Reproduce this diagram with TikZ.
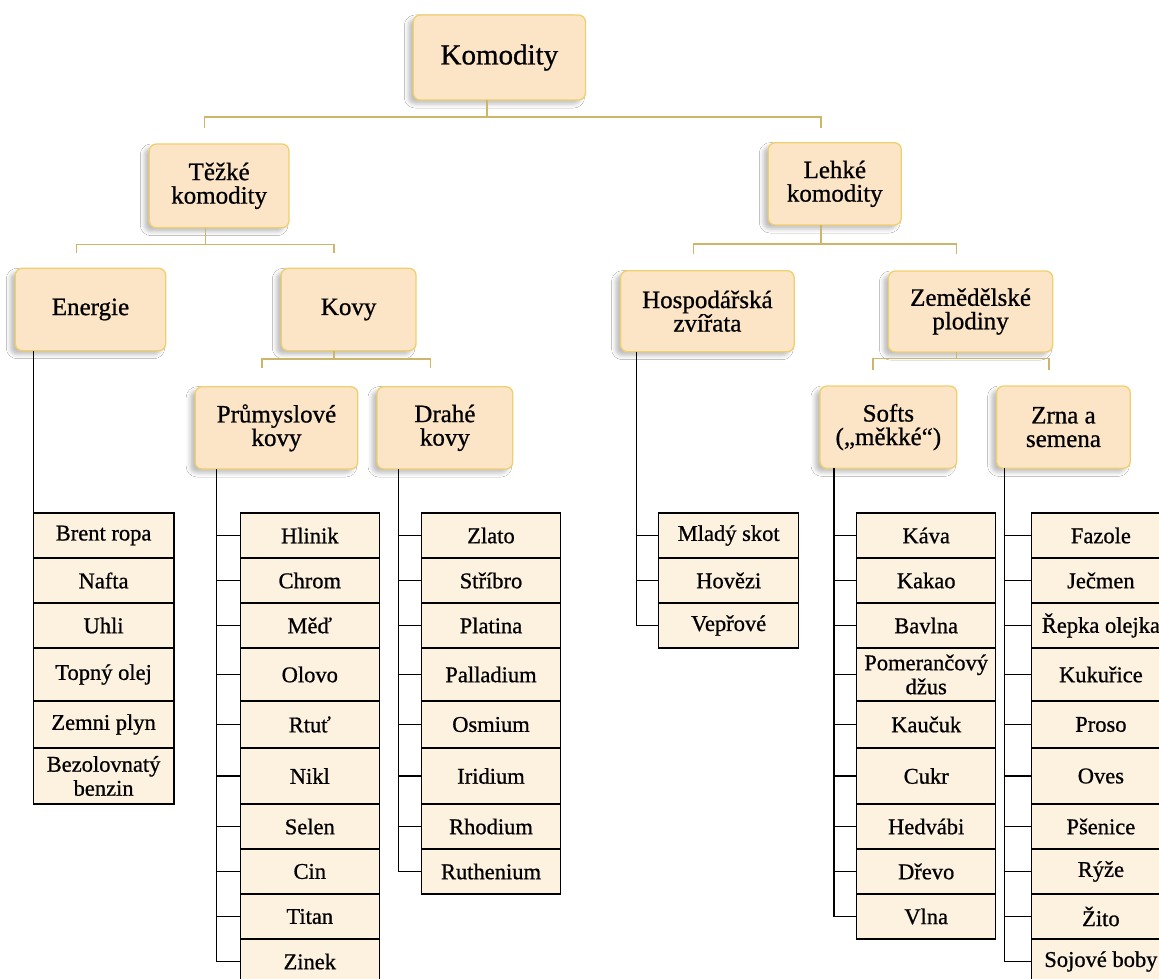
\documentclass[tikz,border=0pt]{standalone}
\usepackage{fontspec}
\setmainfont{Liberation Serif}
\newfontfamily\heavyserif{Liberation Serif}[FakeBold=0.8]
\usetikzlibrary{shadows.blur}
\definecolor{boxfill}{HTML}{FCE5C6}
\definecolor{boxline}{HTML}{F0D06E}
\definecolor{leaffill}{HTML}{FDF1DF}
\definecolor{goldline}{HTML}{CDB66A}
\tikzset{
  cat/.style={rounded corners=7pt, draw=boxline, fill=boxfill, line width=1.3pt,
    align=center, inner sep=0pt, outer sep=0pt, anchor=north west,
    font=\heavyserif\fontsize{25}{23.5}\selectfont,
    blur shadow={shadow xshift=-5pt, shadow yshift=-4pt, shadow blur radius=4pt, shadow opacity=25}},
  leaf/.style={draw=black, fill=leaffill, line width=1.2pt, align=center,
    inner sep=0pt, outer sep=0pt, anchor=north, font=\heavyserif\fontsize{22.5}{24}\selectfont},
  wa/.style={minimum width=140.6pt}, wb/.style={minimum width=138.8pt},
  wc/.style={minimum width=138.7pt}, wd/.style={minimum width=139.8pt},
  we/.style={minimum width=139pt},
  ha/.style={minimum height=45pt}, hb/.style={minimum height=53pt},
  hc/.style={minimum height=47pt}, hd/.style={minimum height=56pt},
  blk/.style={draw=black, line width=1.3pt},
  gold/.style={draw=goldline, line width=1.5pt},
}
\begin{document}
\begin{tikzpicture}[x=1pt, y=-1pt]
\clip (0,0) rectangle (1159,979);
\fill[white] (0,0) rectangle (1159,979);

% category boxes
\node[cat, minimum width=172.2pt, minimum height=85pt, font=\heavyserif\fontsize{29}{30}\selectfont] (kom) at (413.3,15) {Komodity};
\node[cat, minimum width=139.7pt, minimum height=83.7pt] (tk) at (149.3,144) {Těžké\\komodity};
\node[cat, minimum width=133pt, minimum height=82.3pt] (lk) at (768.3,142.7) {Lehké\\komodity};
\node[cat, minimum width=150.4pt, minimum height=82.4pt] (en) at (15.3,268.3) {Energie};
\node[cat, minimum width=134.7pt, minimum height=82.4pt] (kv) at (281.3,268.3) {Kovy};
\node[cat, minimum width=173.6pt, minimum height=81pt] (hz) at (620.6,270.7) {Hospodářská\\zvířata};
\node[cat, minimum width=164.3pt, minimum height=81pt] (zp) at (888.4,271) {Zemědělské\\plodiny};
\node[cat, minimum width=162.6pt, minimum height=82.3pt] (pk) at (195.2,386.7) {Průmyslové\\kovy};
\node[cat, minimum width=135.8pt, minimum height=82.3pt] (dk) at (377,386.7) {Drahé\\kovy};
\node[cat, minimum width=136.7pt, minimum height=82.3pt] (sk) at (820,386) {Softs\\(„měkké“)};
\node[cat, minimum width=133.7pt, minimum height=82.3pt] (zk) at (996.6,386) {Zrna a\\semena};

% gold connectors
\coordinate (j1) at (204.7,128);  \coordinate (j2) at (820.8,128);
\coordinate (j3) at (76.5,252.5); \coordinate (j4) at (334,252.5);
\coordinate (j5) at (693.4,254);  \coordinate (j6) at (956.7,254);
\coordinate (j7) at (262,368);    \coordinate (j8) at (430.5,368);
\coordinate (j9) at (872.9,370);  \coordinate (j10) at (1049,370);
\draw[gold] ([xshift=73.5pt]kom.south west) -- ++(0,17) -| (j1);
\draw[gold] ([xshift=73.5pt]kom.south west) -- ++(0,17) -| (j2);
\draw[gold] ([xshift=56.2pt]tk.south west) -- ++(0,16.6) -| (j3);
\draw[gold] ([xshift=56.2pt]tk.south west) -- ++(0,16.6) -| (j4);
\draw[gold] ([xshift=52.5pt]lk.south west) -- ++(0,19) -| (j5);
\draw[gold] ([xshift=52.5pt]lk.south west) -- ++(0,19) -| (j6);
\draw[gold] ([xshift=52.7pt]kv.south west) -- ++(0,8.3) -| (j7);
\draw[gold] ([xshift=52.7pt]kv.south west) -- ++(0,8.3) -| (j8);
\draw[gold] ([xshift=68.3pt]zp.south west) -- ++(0,6.3) -| (j9);
\draw[gold] ([xshift=68.3pt]zp.south west) -- ++(0,6.3) -| (j10);

% Energie leaves
\node[leaf, wa, ha] (e1) at (103.6,513) {Brent ropa};
\node[leaf, wa, ha] (e2) at (e1.south) {Nafta};
\node[leaf, wa, ha] (e3) at (e2.south) {Uhli};
\node[leaf, wa, hb] (e4) at (e3.south) {Topný olej};
\node[leaf, wa, hc] (e5) at (e4.south) {Zemni plyn};
\node[leaf, wa, hd] (e6) at (e5.south) {Bezolovnatý\\benzin};

% Průmyslové kovy leaves
\node[leaf, wb, ha] (p1) at (309.8,513) {Hlinik};
\node[leaf, wb, ha] (p2) at (p1.south) {Chrom};
\node[leaf, wb, ha] (p3) at (p2.south) {Měď};
\node[leaf, wb, hb] (p4) at (p3.south) {Olovo};
\node[leaf, wb, hc] (p5) at (p4.south) {Rtuť};
\node[leaf, wb, hd] (p6) at (p5.south) {Nikl};
\node[leaf, wb, ha] (p7) at (p6.south) {Selen};
\node[leaf, wb, ha] (p8) at (p7.south) {Cin};
\node[leaf, wb, ha] (p9) at (p8.south) {Titan};
\node[leaf, wb, ha] (p10) at (p9.south) {Zinek};

% Drahé kovy leaves
\node[leaf, wc, ha] (d1) at (491,513) {Zlato};
\node[leaf, wc, ha] (d2) at (d1.south) {Stříbro};
\node[leaf, wc, ha] (d3) at (d2.south) {Platina};
\node[leaf, wc, hb] (d4) at (d3.south) {Palladium};
\node[leaf, wc, hc] (d5) at (d4.south) {Osmium};
\node[leaf, wc, hd] (d6) at (d5.south) {Iridium};
\node[leaf, wc, ha] (d7) at (d6.south) {Rhodium};
\node[leaf, wc, ha] (d8) at (d7.south) {Ruthenium};

% Hospodářská zvířata leaves
\node[leaf, wd, ha] (h1) at (728.7,513) {Mladý skot};
\node[leaf, wd, ha] (h2) at (h1.south) {Hovězi};
\node[leaf, wd, ha] (h3) at (h2.south) {Vepřové};

% Softs leaves
\node[leaf, we, ha] (s1) at (926.2,513) {Káva};
\node[leaf, we, ha] (s2) at (s1.south) {Kakao};
\node[leaf, we, ha] (s3) at (s2.south) {Bavlna};
\node[leaf, we, hb] (s4) at (s3.south) {Pomerančový\\džus};
\node[leaf, we, hc] (s5) at (s4.south) {Kaučuk};
\node[leaf, we, hd] (s6) at (s5.south) {Cukr};
\node[leaf, we, ha] (s7) at (s6.south) {Hedvábi};
\node[leaf, we, ha] (s8) at (s7.south) {Dřevo};
\node[leaf, we, ha] (s9) at (s8.south) {Vlna};

% Zrna a semena leaves
\node[leaf, we, ha] (z1) at (1100.9,513) {Fazole};
\node[leaf, we, ha] (z2) at (z1.south) {Ječmen};
\node[leaf, we, ha] (z3) at (z2.south) {Řepka olejka};
\node[leaf, we, hb] (z4) at (z3.south) {Kukuřice};
\node[leaf, we, hc] (z5) at (z4.south) {Proso};
\node[leaf, we, hd] (z6) at (z5.south) {Oves};
\node[leaf, we, ha] (z7) at (z6.south) {Pšenice};
\node[leaf, we, ha] (z8) at (z7.south) {Rýže};
\node[leaf, we, ha] (z9) at (z8.south) {Žito};
\node[leaf, we, ha] (z10) at (z9.south) {Sojové boby};

% black connectors
\coordinate (ev) at ([xshift=18pt]en.south west);
\draw[blk] (ev) -- (ev |- e1.north);

\coordinate (pv) at ([xshift=21.2pt]pk.south west);
\draw[blk] (pv) |- (p10.west);
\foreach \n in {p1,p2,p3,p4,p5,p6,p7,p8,p9} {\draw[blk] (pv |- \n.west) -- (\n.west);}

\coordinate (dv) at ([xshift=21.4pt]dk.south west);
\draw[blk] (dv) |- (d8.west);
\foreach \n in {d1,d2,d3,d4,d5,d6,d7} {\draw[blk] (dv |- \n.west) -- (\n.west);}

\coordinate (hv) at ([xshift=16pt]hz.south west);
\draw[blk] (hv) |- (h3.west);
\foreach \n in {h1,h2} {\draw[blk] (hv |- \n.west) -- (\n.west);}

\coordinate (sv) at ([xshift=14pt]sk.south west);
\draw[blk] (sv) |- (s9.west);
\foreach \n in {s1,s2,s3,s4,s5,s6,s7,s8} {\draw[blk] (sv |- \n.west) -- (\n.west);}

\coordinate (zv) at ([xshift=7.7pt]zk.south west);
\draw[blk] (zv) |- (z10.west);
\foreach \n in {z1,z2,z3,z4,z5,z6,z7,z8,z9} {\draw[blk] (zv |- \n.west) -- (\n.west);}
\end{tikzpicture}
\end{document}
